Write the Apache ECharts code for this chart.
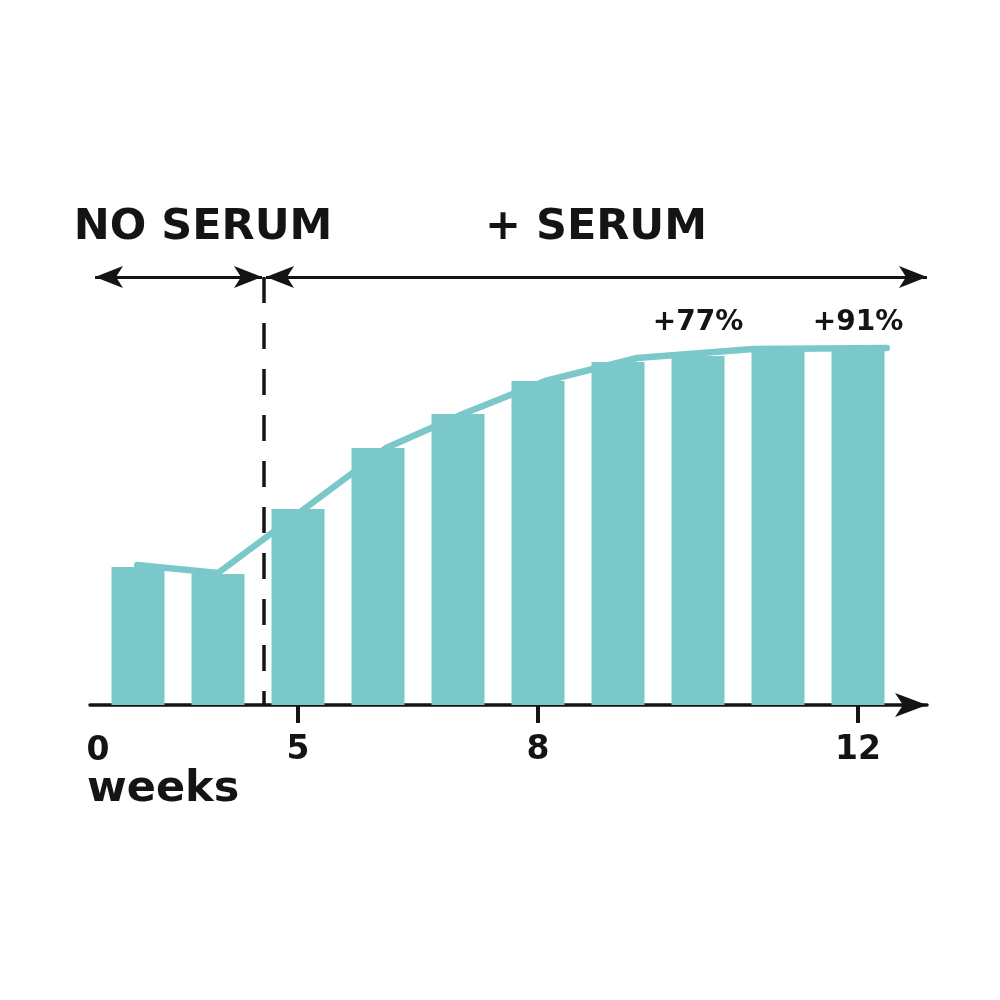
<!DOCTYPE html>
<html>
<head>
<meta charset="utf-8">
<script src="https://cdn.jsdelivr.net/npm/echarts@6/dist/echarts.min.js"></script>
<style>html,body{margin:0;padding:0;background:#fff}#c{width:1000px;height:1000px}</style>
</head>
<body>
<div id="c"></div>
<script>
// ---- data ----
const weeks = [3, 4, 5, 6, 7, 8, 9, 10, 11, 12];
const barValues = [138, 131, 196, 257, 291, 324, 343, 349, 356, 357];
const trendWeeks = [2.99, 4.0, 5.06, 6.1, 7.06, 8.09, 9.24, 10.69, 12.36];
const trendValues = [140, 132, 195, 257, 291, 324, 347, 356, 357];
const tickWeeks = [5, 8, 12];
const tickLabels = ['5', '8', '12'];
const originLabel = '0';
const axisName = 'weeks';
const gainWeeks = [10, 12];
const gainLabels = ['+77%', '+91%'];
const phaseNames = ['NO SERUM', '+ SERUM'];
const phaseBoundary = 4.575;     // week where serum starts
const phaseStart = 2.4625, phaseEnd = 12.8625;
const arrowLevel = 428;
const gainLevel = 382;

const TEAL = '#7bc8cb', INK = '#141414', FONT = 'DejaVu Sans';
const chart = echarts.init(document.getElementById('c'), null, {renderer: 'canvas'});

const commonX = {type: 'value', min: 2.4, max: 12.8625, gridIndex: 0, position: 'bottom', offset: 0,
  splitLine: {show: false}};

chart.setOption({
  animation: false,
  backgroundColor: '#fff',
  grid: {left: 90, right: 73, top: 205, bottom: 295},
  xAxis: [
    Object.assign({}, commonX, {
      axisLine: {show: true, lineStyle: {color: INK, width: 3.5}, symbol: ['none', 'arrow'], symbolSize: [18, 32]},
      axisTick: {show: true, inside: true, length: 19, lineStyle: {color: INK, width: 4}, customValues: tickWeeks},
      axisLabel: {show: true, customValues: tickWeeks, margin: 29, color: INK, fontFamily: FONT, fontWeight: 'bold',
        fontSize: 33, lineHeight: 33, formatter: v => tickLabels[tickWeeks.indexOf(v)] ?? ''}
    }),
    Object.assign({}, commonX, {
      axisLine: {show: false},
      axisTick: {show: true, inside: false, length: 18, lineStyle: {color: INK, width: 4}, customValues: tickWeeks},
      axisLabel: {show: false}
    })
  ],
  yAxis: {type: 'value', min: 0, max: 500, show: false, splitLine: {show: false}},
  graphic: [
    {type: 'text', x: 203, y: 228, style: {text: phaseNames[0], x: 0, y: 0, fill: INK, font: 'bold 43px "DejaVu Sans"', textAlign: 'center', textVerticalAlign: 'middle'}},
    {type: 'text', x: 596, y: 228, style: {text: phaseNames[1], x: 0, y: 0, fill: INK, font: 'bold 43px "DejaVu Sans"', textAlign: 'center', textVerticalAlign: 'middle'}},
    {type: 'text', x: 98, y: 751, style: {text: originLabel, x: 0, y: 0, fill: INK, font: 'bold 33px "DejaVu Sans"', textAlign: 'center', textVerticalAlign: 'middle'}},
    {type: 'text', x: 87, y: 790, style: {text: axisName, x: 0, y: 0, fill: INK, font: 'bold 43px "DejaVu Sans"', textAlign: 'left', textVerticalAlign: 'middle'}}
  ],
  series: [
    {
      type: 'bar', xAxisIndex: 0, barWidth: 53, silent: true,
      itemStyle: {color: TEAL},
      data: weeks.map((w, i) => [w, barValues[i]]),
      markLine: {
        silent: true, symbol: ['none', 'none'], label: {show: false},
        lineStyle: {color: INK, width: 3.5, type: [26, 20]},
        data: [[{coord: [phaseBoundary, arrowLevel]}, {coord: [phaseBoundary, 0]}]]
      }
    },
    {
      type: 'line', xAxisIndex: 0, silent: true, symbol: 'none',
      lineStyle: {color: TEAL, width: 6.5, cap: 'round', join: 'round'},
      data: trendWeeks.map((w, i) => [w, trendValues[i]]),
      markLine: {
        silent: true, symbol: ['arrow', 'arrow'], symbolSize: [16.5, 28], label: {show: false},
        lineStyle: {color: INK, width: 3, type: 'solid'},
        itemStyle: {color: INK},
        data: [
          [{coord: [phaseStart, arrowLevel]}, {coord: [phaseBoundary - 0.025, arrowLevel]}],
          [{coord: [phaseBoundary + 0.025, arrowLevel]}, {coord: [phaseEnd, arrowLevel]}]
        ]
      }
    },
    {
      type: 'scatter', xAxisIndex: 0, silent: true, symbolSize: 0,
      itemStyle: {opacity: 1},
      label: {show: true, position: 'inside', color: INK, fontFamily: FONT, fontWeight: 'bold', fontSize: 28,
        formatter: p => gainLabels[p.dataIndex]},
      data: gainWeeks.map(w => [w, gainLevel])
    }
  ]
});
</script>
</body>
</html>
